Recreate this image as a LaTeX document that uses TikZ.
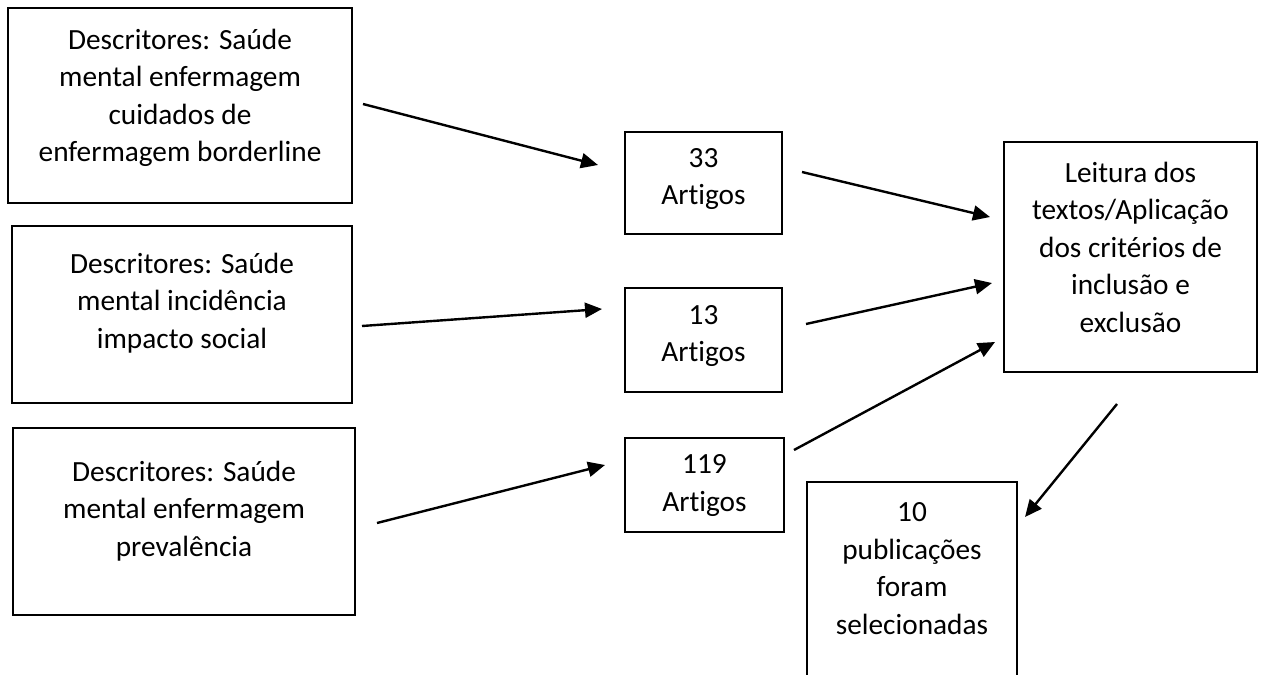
\documentclass[tikz,border=0pt]{standalone}
\usepackage{fontspec}
\setmainfont[Ligatures=NoCommon]{Carlito}
\usetikzlibrary{arrows.meta}
\begin{document}
\begin{tikzpicture}[x=1pt,y=-1pt,
  box/.style={draw=black, line width=1.8pt, inner sep=0pt},
  txt/.style={align=center, inner sep=0pt, font=\fontsize{29.3}{37.5}\selectfont},
  arr/.style={line width=2.4pt, -{Triangle[length=17pt,width=15pt]}}]
\useasboundingbox (0,0) rectangle (1262,675);
\clip (0,0) rectangle (1262,675);
\fill[white] (0,0) rectangle (1262,675);
% boxes
\node[box, minimum width=344pt, minimum height=195pt] (d1) at (180,105.5) {};
\node[box, minimum width=340pt, minimum height=177pt] (d2) at (182,314.5) {};
\node[box, minimum width=342pt, minimum height=187pt] (d3) at (184,521.5) {};
\node[box, minimum width=157pt, minimum height=102pt] (n33) at (703.5,183) {};
\node[box, minimum width=157pt, minimum height=104pt] (n13) at (703.5,340) {};
\node[box, minimum width=159pt, minimum height=94pt] (n119) at (704.5,485) {};
\node[box, minimum width=253pt, minimum height=230pt] (lei) at (1130.5,257) {};
\node[box, minimum width=210pt, minimum height=228pt] (pub) at (912,596) {};
% texts
\node[txt] (t1) at (180,98) {Descritores: Saúde\\mental enfermagem\\cuidados de\\enfermagem borderline};
\node[txt] (t2) at (182,303) {Descritores: Saúde\\mental incidência\\impacto social};
\node[txt] (t3) at (184,511) {Descritores: Saúde\\mental enfermagem\\prevalência};
\node[txt] (t33) at (703.5,179) {33\\Artigos};
\node[txt] (t13) at (703.5,336) {13\\Artigos};
\node[txt] (t119) at (704.5,485.5) {119\\Artigos};
\node[txt] (tlei) at (1130.5,247) {Leitura dos\\textos/Aplicação\\dos critérios de\\inclusão e\\exclusão};
\node[txt] (tpub) at (912,568.5) {10\\publicações\\foram\\selecionadas};
% connector ends
\coordinate (a1s) at (363,104);  \coordinate (a1e) at (598,165);
\coordinate (a2s) at (362,326);  \coordinate (a2e) at (602,309);
\coordinate (a3s) at (377,523);  \coordinate (a3e) at (605,465);
\coordinate (a4s) at (802,172);  \coordinate (a4e) at (990,217);
\coordinate (a5s) at (806,324);  \coordinate (a5e) at (992,283);
\coordinate (a6s) at (794,450);  \coordinate (a6e) at (995,342);
\coordinate (a7s) at (1117,404); \coordinate (a7e) at (1025,517);
\draw[arr] (a1s) -- (a1e);
\draw[arr] (a2s) -- (a2e);
\draw[arr] (a3s) -- (a3e);
\draw[arr] (a4s) -- (a4e);
\draw[arr] (a5s) -- (a5e);
\draw[arr] (a6s) -- (a6e);
\draw[arr] (a7s) -- (a7e);
\end{tikzpicture}
\end{document}
